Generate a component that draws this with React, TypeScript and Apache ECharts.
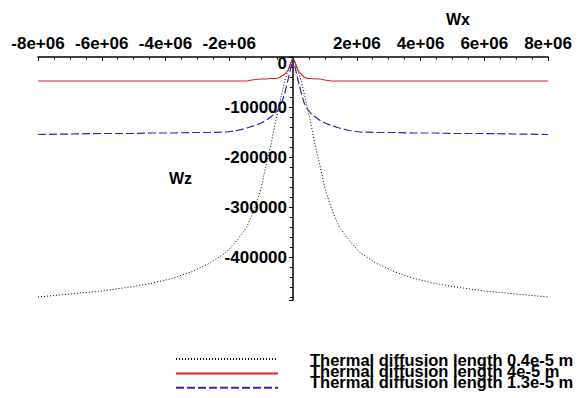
import React, { useEffect, useRef } from "react";
import * as echarts from "echarts";

const xValues = [
  -8e6, -7e6, -6e6, -5e6, -4.4e6, -3.8e6, -3.2e6, -2.6e6, -2.1e6, -1.75e6, -1.45e6, -1.2e6, -1.0e6, -0.85e6, -0.7e6, -0.55e6, -0.45e6, -0.35e6, -0.25e6, -0.15e6, -0.05e6,
  0,
  0.05e6, 0.15e6, 0.25e6, 0.35e6, 0.45e6, 0.55e6, 0.7e6, 0.85e6, 1.0e6, 1.2e6, 1.45e6, 1.75e6, 2.1e6, 2.6e6, 3.2e6, 3.8e6, 4.4e6, 5e6, 6e6, 7e6, 8e6,
];

const dottedValues = [
  -480000, -474000, -468000, -459000, -452000, -443000, -430000, -412000, -391000, -366000, -340000, -302000, -262000, -218000, -178000, -130000, -102000, -72000, -46000, -26000, -8000,
  -2000,
  -8000, -26000, -46000, -72000, -102000, -130000, -178000, -218000, -262000, -302000, -340000, -366000, -391000, -412000, -430000, -443000, -452000, -459000, -468000, -474000, -480000,
];

const redValues = [
  -48000, -48000, -48000, -48000, -48000, -48000, -48000, -48000, -48000, -48000, -48000, -45000, -44000, -44000, -43000, -43000, -42000, -38000, -34000, -26000, -9000,
  -2000,
  -9000, -26000, -34000, -40000, -43000, -43000, -44000, -44000, -46000, -48000, -48000, -48000, -48000, -48000, -48000, -48000, -48000, -48000, -48000, -48000, -48000,
];

const blueValues = [
  -155000, -154000, -153000, -153000, -152000, -152000, -151000, -151000, -150000, -147000, -142000, -137000, -132000, -127000, -120000, -112000, -104000, -92000, -70000, -44000, -16000,
  -2000,
  -16000, -44000, -70000, -92000, -104000, -112000, -120000, -127000, -132000, -137000, -142000, -147000, -150000, -151000, -151000, -152000, -152000, -153000, -153000, -154000, -155000,
];

const seriesNames = [
  "Thermal diffusion length 0.4e-5 m",
  "Thermal diffusion length 4e-5 m",
  "Thermal diffusion length 1.3e-5 m",
];

const FONT = '"Liberation Sans", Arial, sans-serif';

export default function App() {
  const ref = useRef<HTMLDivElement>(null);
  useEffect(() => {
    if (!ref.current) return;
    const chart = echarts.init(ref.current, undefined, { renderer: "svg" });
    const pair = (ys: number[]) => xValues.map((x, i) => [x, ys[i]]);
    chart.setOption({
      animation: false,
      backgroundColor: "#ffffff",
      grid: { left: 38, right: 31, top: 57, bottom: 98, containLabel: false, outerBoundsMode: "none" },
      xAxis: {
        type: "value",
        position: "top",
        min: -8e6,
        max: 8e6,
        interval: 2e6,
        name: "Wx",
        nameLocation: "middle",
        nameGap: 30,
        nameTextStyle: { fontFamily: FONT, fontWeight: "bold", fontSize: 16, color: "#000", padding: [0, 0, 0, 330] },
        axisLine: { onZero: false, lineStyle: { color: "#000", width: 1.5 } },
        axisTick: { inside: true, length: 4, lineStyle: { color: "#000" } },
        minorTick: { show: true, splitNumber: 4, length: 2.5, lineStyle: { color: "#000" } },
        splitLine: { show: false },
        axisLabel: {
          margin: 5,
          fontFamily: FONT,
          fontWeight: "bold",
          fontSize: 17,
          color: "#000",
          hideOverlap: false,
          formatter: (v: number) => (v === 0 ? "" : v / 1e6 + "e+06"),
        },
      },
      yAxis: {
        type: "value",
        position: "left",
        offset: -255,
        min: -486000,
        max: 0,
        name: "Wz",
        nameLocation: "middle",
        nameRotate: 0,
        nameGap: 101,
        nameTextStyle: { fontFamily: FONT, fontWeight: "bold", fontSize: 16, color: "#000", padding: [6, 0, 0, 0] },
        axisLine: { show: true, onZero: false, lineStyle: { color: "#000", width: 1.5 } },
        axisTick: { length: 4, lineStyle: { color: "#000" } },
        minorTick: { show: true, splitNumber: 5, length: 3, lineStyle: { color: "#000" } },
        splitLine: { show: false },
        axisLabel: {
          margin: 6,
          fontFamily: FONT,
          fontWeight: "bold",
          fontSize: 17,
          color: "#000",
          formatter: (v: number) => (v === 0 ? "{z|0}" : v % 100000 === 0 ? String(v) : ""),
          rich: { z: { fontFamily: FONT, fontWeight: "bold", fontSize: 17, color: "#000", padding: [13, 0, 0, 0] } },
        },
      },
      legend: [
        {
          orient: "vertical",
          left: 170,
          top: 346,
          height: 80,
          itemWidth: 102,
          itemHeight: 16,
          itemGap: 0,
          formatter: () => "",
          textStyle: { fontSize: 1 },
          itemStyle: { color: "transparent", borderColor: "transparent", borderWidth: 0, opacity: 0 },
          data: seriesNames,
        },
        {
          orient: "vertical",
          left: 300,
          top: 346,
          height: 80,
          icon: "none",
          itemWidth: 0,
          itemHeight: 10,
          itemGap: -6,
          textStyle: { fontFamily: FONT, fontWeight: "bold", fontSize: 16.5, color: "#000" },
          data: seriesNames,
        },
      ],
      series: [
        {
          name: seriesNames[0],
          type: "line",
          data: pair(dottedValues),
          symbol: "none",
          color: "#000000",
          lineStyle: { color: "#000000", width: 1, type: [1, 2] },
        },
        {
          name: seriesNames[1],
          type: "line",
          data: pair(redValues),
          symbol: "none",
          color: "#e02020",
          lineStyle: { color: "#e02020", width: 1.2, type: "solid" },
        },
        {
          name: seriesNames[2],
          type: "line",
          data: pair(blueValues),
          symbol: "none",
          color: "#2828b0",
          lineStyle: { color: "#2828b0", width: 1.2, type: [8, 3] },
        },
      ],
    });
    return () => chart.dispose();
  }, []);
  return <div ref={ref} style={{ width: 579, height: 398, position: "absolute", left: 0, top: 0 }} />;
}
